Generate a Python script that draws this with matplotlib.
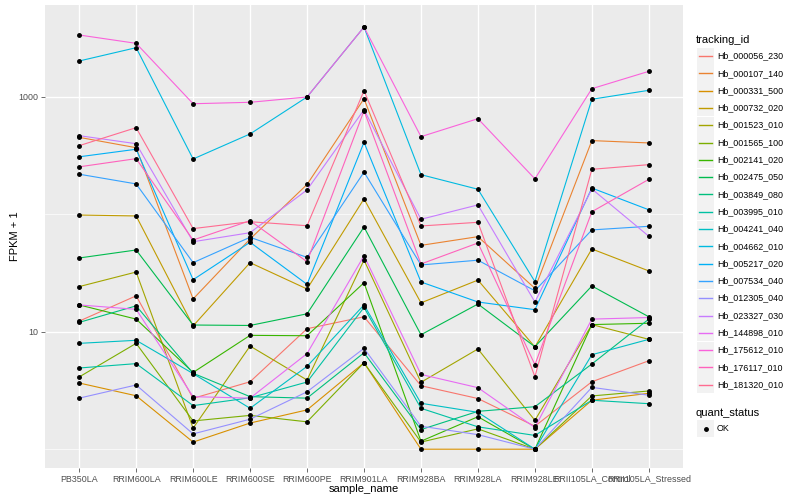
import matplotlib
matplotlib.use("Agg")
import matplotlib.pyplot as plt
from matplotlib.patches import Rectangle
from matplotlib.ticker import FixedLocator, NullFormatter

plt.rcParams['font.family'] = ['Liberation Sans', 'DejaVu Sans']

# 样本与基因
samples = ["PB350LA", "RRIM600LA", "RRIM600LE", "RRIM600SE", "RRIM600PE", "RRIM901LA",
           "RRIM928BA", "RRIM928LA", "RRIM928LE", "RRII105LA_Control", "RRII105LA_Stressed"]
tracking_ids = ["Hb_000056_230", "Hb_000107_140", "Hb_000331_500", "Hb_000732_020",
                "Hb_001523_010", "Hb_001565_100", "Hb_002141_020", "Hb_002475_050",
                "Hb_003849_080", "Hb_003995_010", "Hb_004241_040", "Hb_004662_010",
                "Hb_005217_020", "Hb_007534_040", "Hb_012305_040", "Hb_023327_030",
                "Hb_144898_010", "Hb_175612_010", "Hb_176117_010", "Hb_181320_010"]
colors = ["#F8766D", "#EA8331", "#D89000", "#C09B00", "#A3A500", "#7CAE00", "#39B600",
          "#00BB4E", "#00BF7D", "#00C1A3", "#00BFC4", "#00BAE0", "#00B0F6", "#35A2FF",
          "#9590FF", "#C77CFF", "#E76BF3", "#FA62DB", "#FF62BC", "#FF6C91"]

# FPKM + 1
hb_000056_230 = [12.3, 20.2, 2.71, 3.75, 10.6, 13.4, 3.47, 2.70, 1.57, 3.75, 5.66]
hb_000107_140 = [451, 368, 19.0, 61.5, 179, 961, 54.3, 64.4, 23.4, 423, 404]
hb_000331_500 = [3.66, 2.85, 1.15, 1.67, 2.16, 5.44, 1.0, 1.0, 1.0, 2.61, 2.99]
hb_000732_020 = [98.4, 96.6, 11.2, 38.7, 23.1, 135, 17.6, 27.5, 7.41, 50.6, 32.9]
hb_001523_010 = [24.2, 32.2, 1.51, 7.55, 3.88, 40.7, 3.71, 7.13, 1.76, 11.5, 8.61]
hb_001565_100 = [4.12, 7.96, 1.74, 1.94, 1.71, 5.44, 1.15, 1.49, 1.0, 2.84, 3.13]
hb_002141_020 = [16.9, 12.8, 4.5, 9.31, 9.24, 26.1, 1.17, 1.89, 1.0, 11.5, 11.8]
hb_002475_050 = [42.4, 49.6, 11.4, 11.3, 14.2, 77.8, 9.42, 17.2, 7.45, 24.5, 13.4]
hb_003849_080 = [12.0, 16.6, 4.43, 2.80, 2.72, 6.62, 1.47, 2.10, 2.30, 5.31, 12.8]
hb_003995_010 = [4.91, 5.35, 2.35, 2.74, 3.73, 16.1, 2.23, 1.55, 1.31, 2.61, 2.44]
hb_004241_040 = [7.96, 8.45, 4.4, 2.23, 5.07, 16.9, 2.46, 2.06, 1.0, 6.37, 8.61]
hb_004662_010 = [2013, 2612, 295, 482, 994, 3917, 217, 163, 26.7, 951, 1133]
hb_005217_020 = [308, 357, 27.7, 57.7, 25.3, 409, 26.5, 17.9, 15.4, 167, 109]
hb_007534_040 = [219, 181, 38.7, 63.6, 42.9, 228, 37.0, 40.6, 22.3, 73.5, 78.9]
hb_012305_040 = [2.72, 3.52, 1.35, 1.80, 3.08, 7.22, 1.57, 1.33, 1.0, 3.36, 2.88]
hb_023327_030 = [466, 398, 58.3, 69.6, 161, 774, 90.5, 120, 17.9, 164, 64.9]
hb_144898_010 = [16.9, 15.5, 2.80, 2.72, 6.51, 44.3, 4.33, 3.34, 1.53, 12.8, 13.2]
hb_175612_010 = [3350, 2845, 871, 896, 994, 3917, 457, 650, 200, 1170, 1644]
hb_176117_010 = [253, 297, 60.3, 88.1, 39.4, 760, 37.7, 56.9, 5.24, 105, 198]
hb_181320_010 = [383, 545, 75.4, 86.3, 79.8, 1125, 79.4, 85.3, 4.14, 241, 264]

fpkm = [hb_000056_230, hb_000107_140, hb_000331_500, hb_000732_020, hb_001523_010,
        hb_001565_100, hb_002141_020, hb_002475_050, hb_003849_080, hb_003995_010,
        hb_004241_040, hb_004662_010, hb_005217_020, hb_007534_040, hb_012305_040,
        hb_023327_030, hb_144898_010, hb_175612_010, hb_176117_010, hb_181320_010]

fig = plt.figure(figsize=(8, 5), dpi=100)
ax = fig.add_axes([45 / 800, 1 - 468 / 500, 638 / 800, 463 / 500])
ax.set_facecolor("#EBEBEB")
for s in ax.spines.values():
    s.set_visible(False)

x = list(range(len(samples)))
for vals, c in zip(fpkm, colors):
    ax.plot(x, vals, color=c, lw=0.8, zorder=3)
for vals in fpkm:
    ax.plot(x, vals, "o", color="black", ms=2.5, zorder=4)

ax.set_yscale("log")
ax.set_ylim(0.692, 6030)
ax.set_xlim(-0.6, len(samples) - 0.4)

ax.yaxis.set_major_locator(FixedLocator([10, 1000]))
ax.yaxis.set_minor_locator(FixedLocator([1, 100]))
ax.yaxis.set_minor_formatter(NullFormatter())
ax.set_yticklabels(["10", "1000"])
ax.set_xticks(x)
ax.set_xticklabels(samples)
ax.grid(which="major", color="white", lw=1.0, zorder=0)
ax.grid(which="minor", axis="y", color="white", lw=0.5, zorder=0)
ax.set_axisbelow(True)
ax.tick_params(which="major", length=2.7, width=0.5, color="#333333",
               labelsize=6.4, labelcolor="#4D4D4D", pad=2)
ax.tick_params(which="minor", length=0)

# 坐标轴标题与图例（像素坐标覆盖层）
ov = fig.add_axes([0, 0, 1, 1])
ov.set_xlim(0, 800)
ov.set_ylim(500, 0)
ov.axis("off")
ov.patch.set_alpha(0)

ov.text(364, 489, "sample_name", fontsize=8, ha="center", va="center")
ov.text(15, 236, "FPKM + 1", fontsize=8, rotation=90, ha="center", va="center")

ov.text(696, 40, "tracking_id", fontsize=8, ha="left", va="center")
for i, (tid, c) in enumerate(zip(tracking_ids, colors)):
    yc = 56 + i * 17.3
    ov.add_patch(Rectangle((697, yc - 8.5), 17, 17, facecolor="#F2F2F2",
                           edgecolor="none", zorder=1))
    ov.plot([699, 712], [yc, yc], color=c, lw=1.0, zorder=3)
    ov.text(717, yc, tid, fontsize=6.4, ha="left", va="center")

ov.text(696, 412.5, "quant_status", fontsize=8, ha="left", va="center")
ov.add_patch(Rectangle((697, 420), 17, 17, facecolor="#F2F2F2", edgecolor="none", zorder=1))
ov.plot([705.5], [428.5], "o", color="black", ms=2.5, zorder=3)
ov.text(717, 428.5, "OK", fontsize=6.4, ha="left", va="center")

fig.savefig("out.png", dpi=100, facecolor="white")
plt.close(fig)
